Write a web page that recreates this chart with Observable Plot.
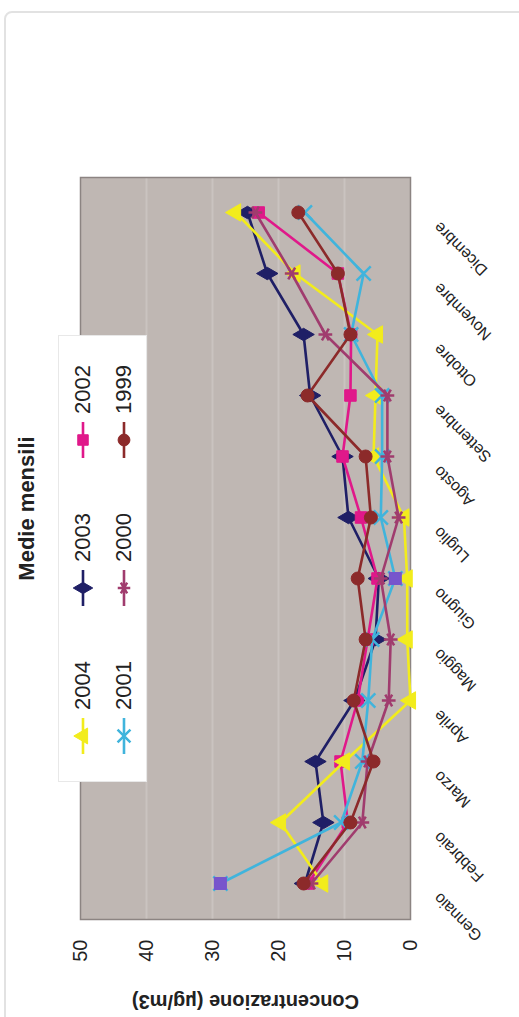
<!DOCTYPE html>
<html><head><meta charset="utf-8">
<script src="https://cdn.jsdelivr.net/npm/d3@7"></script>
<script src="https://cdn.jsdelivr.net/npm/@observablehq/plot@0.6"></script>
<style>
html,body{margin:0;padding:0;background:#fff;overflow:hidden;width:519px;height:1017px;}
#rot{position:absolute;left:0;top:0;width:1017px;height:519px;transform-origin:0 0;transform:translate(0,1017px) rotate(-90deg);font-family:"Liberation Sans",Arial,sans-serif;}
#frame{position:absolute;left:-20px;top:4px;width:1026px;height:540px;border:2px solid #e2e2e2;border-radius:8px;box-sizing:border-box;}
#title{position:absolute;left:0;top:13px;width:1017px;text-align:center;font-weight:bold;font-size:22px;line-height:28px;color:#222;}
#chart{position:absolute;left:0;top:0;}
#legend{position:absolute;left:235px;top:58px;width:447px;height:89px;background:#fff;border:1px solid #e8e8e8;box-sizing:border-box;}
.item{position:absolute;height:30px;display:flex;align-items:center;font-size:22px;color:#222;}
.item span{margin-left:8px;}
</style></head><body>
<div id="rot"><div id="frame"></div><div id="chart"></div><div id="legend"></div><div id="title">Medie mensili</div></div>
<script>
const months = ["Gennaio","Febbraio","Marzo","Aprile","Maggio","Giugno","Luglio","Agosto","Settembre","Ottobre","Novembre","Dicembre"];
const yTicks = [0,10,20,30,40,50];
const drawOrder = ["2003","2002","2004","2001","2000","1999"];
const legendOrder = ["2004","2003","2002","2001","2000","1999"];
const v2003 = [16, 13.2, 14.4, 8.5, 5.3, 4.8, 9.4, 10.3, 15.2, 16.2, 21.7, 24.7];
const v2002 = [15.5, 9.5, 10.6, 8, 6.5, 5, 7.5, 10.3, 9.1, 9, 11, 23];
const v2004 = [13.3, 19.7, 10, 0, 0.5, 0.5, 1, 5.6, 5.3, 5, 17.5, 26.5];
const v2001 = [28.8, 10.5, 7.3, 6.4, 5.8, 2.3, 4.5, 4.3, 4.3, 9, 7.1, 16];
const v2000 = [15, 7.3, 6.5, 3.3, 3.0, 4.5, 1.8, 3.5, 3.5, 12.9, 18, 23.5];
const v1999 = [16.2, 9.1, 5.6, 8.6, 6.8, 8.0, 6.0, 6.8, 15.6, 9.1, 11, 17];
const highlight2001 = ["Gennaio","Giugno"];

const series = {"2003": v2003, "2002": v2002, "2004": v2004, "2001": v2001, "2000": v2000, "1999": v1999};
const colors = {"2003":"#1f1f66","2002":"#e0188a","2004":"#f2ec1c","2001":"#40b4dc","2000":"#a03c6e","1999":"#8c2a2a"};
const symbols = {"2003":"diamond","2002":"square","2004":"triangle","2001":"times","2000":"asterisk","1999":"circle"};
const d3sym = {"diamond":d3.symbolDiamond,"square":d3.symbolSquare,"triangle":d3.symbolTriangle,"times":d3.symbolTimes,"asterisk":d3.symbolAsterisk,"circle":d3.symbolCircle};

const data = drawOrder.flatMap(y => series[y].map((v,i)=>({year:y, month:months[i], value:v})));
const hl = data.filter(d => d.year === "2001" && highlight2001.includes(d.month));

const marks = [
  Plot.frame({fill:"#bfb7b3"}),
  Plot.gridY(yTicks.filter(t => t > 0 && t < 50), {stroke:"#cac3c0", strokeOpacity:1, strokeWidth:2}),
  Plot.frame({stroke:"#8c8482", strokeWidth:1.5}),
  Plot.axisY(yTicks, {tickSize:0, tickPadding:20, fontSize:20, fill:"#222", label:null}),
  Plot.text(months, {x: d => d, frameAnchor:"bottom", rotate:-45, textAnchor:"end", lineAnchor:"middle", dx:-12, dy:26, fontSize:16, fill:"#222"}),
];
for (const y of drawOrder) {
  const dd = data.filter(d => d.year === y);
  marks.push(Plot.line(dd, {x:"month", y:"value", stroke:colors[y], strokeWidth:2.6}));
  marks.push(Plot.dot(dd, {x:"month", y:"value", symbol:symbols[y], fill:colors[y], stroke:colors[y], strokeWidth:(symbols[y]==="times"||symbols[y]==="asterisk")?2.5:1, r:6.5}));
}
marks.push(Plot.dot(hl, {x:"month", y:"value", symbol:"square", fill:"#7755cc", stroke:"#7755cc", r:6.5}));
marks.push(Plot.text(["Concentrazione (µg/m3)"], {frameAnchor:"left", textAnchor:"middle", dx:-82, rotate:-90, fontWeight:"bold", fontSize:20, fill:"#222"}));

const chart = Plot.plot({
  width:1017, height:519,
  marginLeft:97, marginRight:178, marginTop:80, marginBottom:109,
  style:{background:"transparent", fontFamily:"'Liberation Sans', Arial, sans-serif"},
  x:{type:"point", domain:months, padding:0.5, axis:null},
  y:{domain:[0,50], axis:null},
  marks
});
document.getElementById("chart").appendChild(chart);

const legend = document.getElementById("legend");
legendOrder.forEach((y,i) => {
  const row = Math.floor(i/3), col = i%3;
  const div = document.createElement("div");
  div.className = "item";
  div.style.left = (27 + col*148) + "px";
  div.style.top = (row === 0 ? 9 : 50) + "px";
  const s = symbols[y];
  const open = s === "times" || s === "asterisk";
  const path = d3.symbol(d3sym[s], 110)();
  div.innerHTML = `<svg width="36" height="20"><line x1="0" x2="36" y1="10" y2="10" stroke="${colors[y]}" stroke-width="2.6"/><path transform="translate(18,10)" d="${path}" fill="${colors[y]}" stroke="${colors[y]}" stroke-width="${open?2.5:1}"/></svg><span>${y}</span>`;
  legend.appendChild(div);
});
</script>
</body></html>
